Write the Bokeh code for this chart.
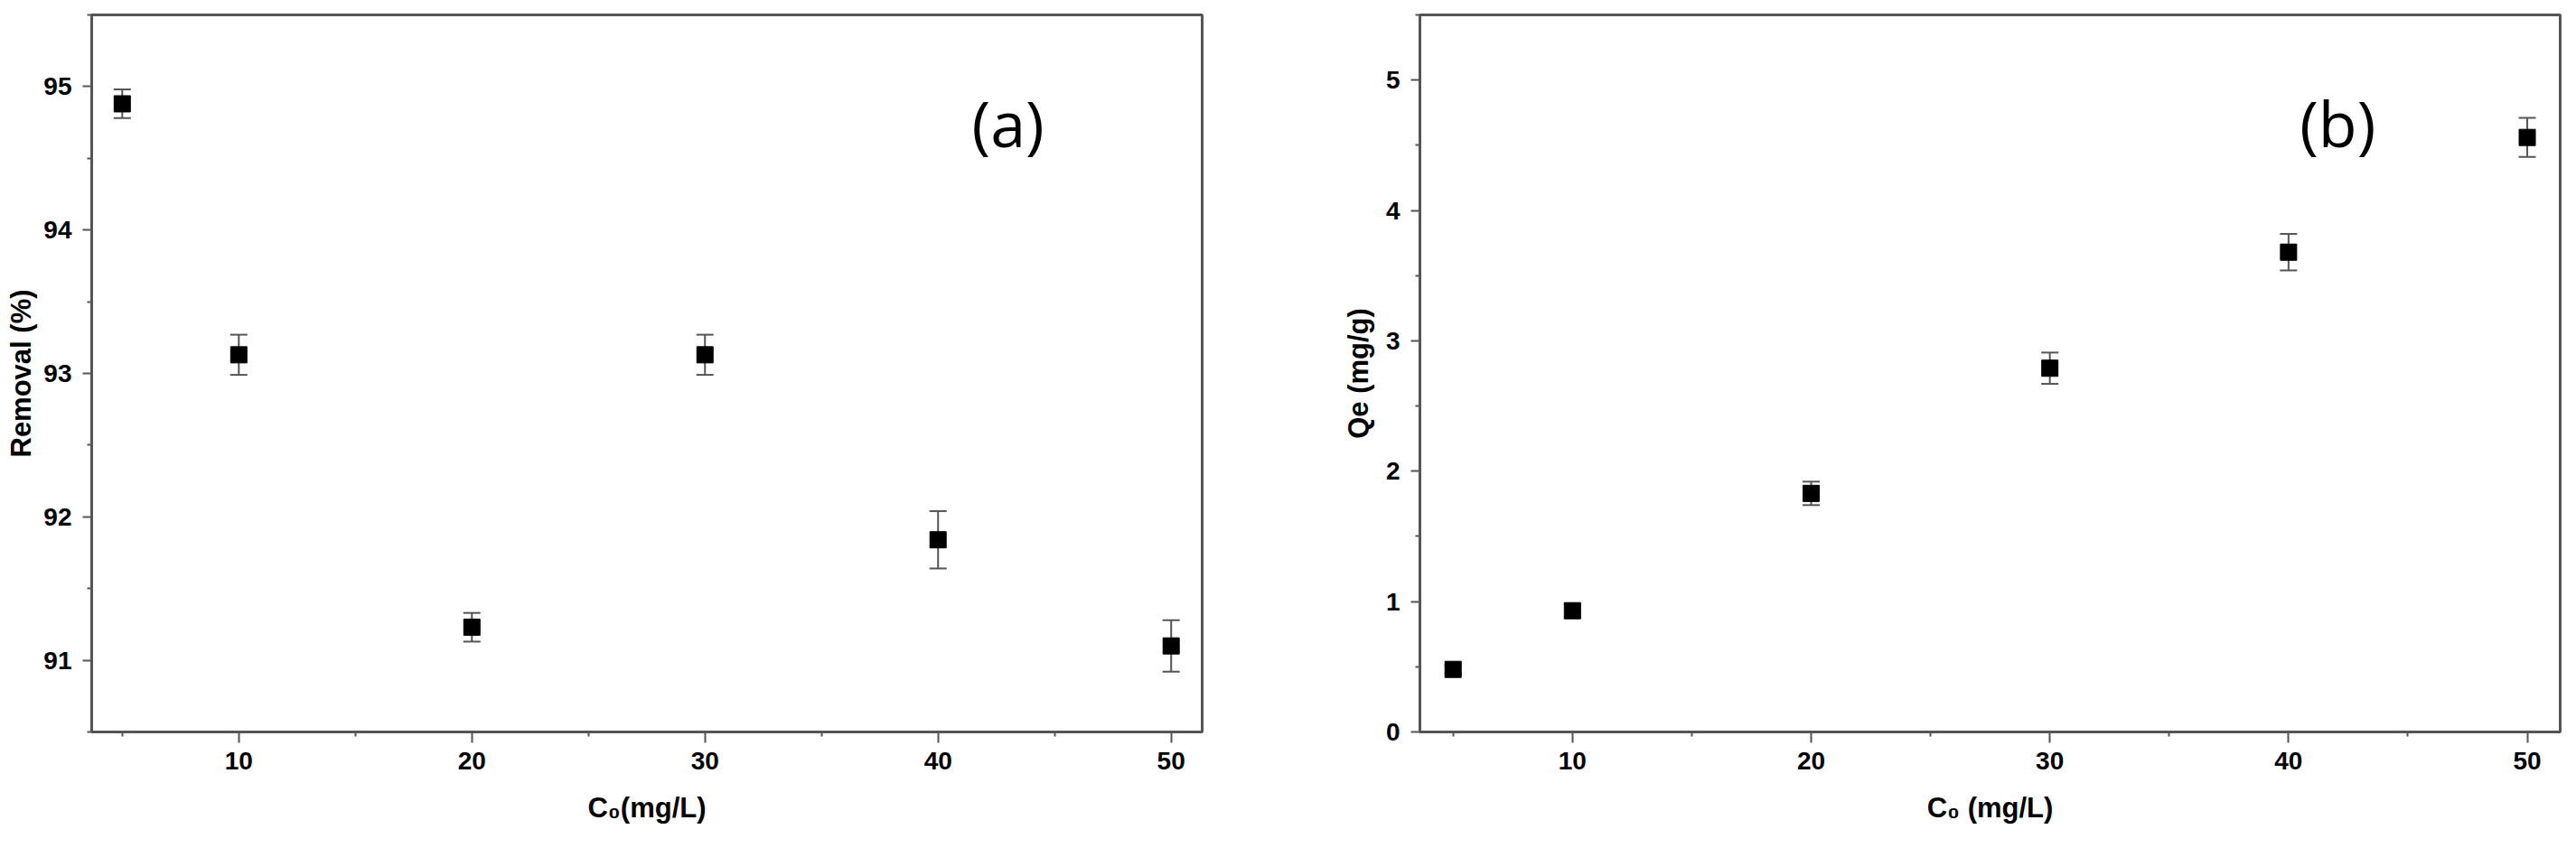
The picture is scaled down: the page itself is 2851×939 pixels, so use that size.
from bokeh.plotting import figure
from bokeh.layouts import row
from bokeh.models import ColumnDataSource, Whisker, TeeHead, FixedTicker, Label, Range1d
from bokeh.embed import file_html
from bokeh.resources import INLINE

# ---- data ----
conc = [5, 10, 20, 30, 40, 50]
removal = [94.88, 93.13, 91.23, 93.13, 91.84, 91.10]
removal_err = [0.10, 0.14, 0.10, 0.14, 0.20, 0.18]
qe = [0.48, 0.93, 1.83, 2.79, 3.68, 4.56]
qe_err = [0.03, 0.05, 0.09, 0.12, 0.14, 0.15]

x_major = [10, 20, 30, 40, 50]
x_minor = [5, 15, 25, 35, 45]
ya_major = [91, 92, 93, 94, 95]
ya_minor = [90.5, 91.5, 92.5, 93.5, 94.5, 95.5]
yb_major = [0, 1, 2, 3, 4, 5]
yb_minor = [0.5, 1.5, 2.5, 3.5, 4.5, 5.5]

AX = "#555555"
FONT = "Liberation Sans"


def make_panel(width, left, right, xr, yr, ys, errs, ymaj, ymin, ylabel, xlabel, tag, tag_xy, ylab_standoff):
    p = figure(width=width, height=923, x_range=Range1d(*xr), y_range=Range1d(*yr),
               output_backend="svg", toolbar_location=None,
               min_border_left=left, min_border_right=right,
               min_border_top=16, min_border_bottom=113)
    p.grid.visible = False
    p.background_fill_color = "white"
    p.border_fill_color = "white"
    p.outline_line_color = AX
    p.outline_line_width = 3

    p.xaxis.ticker = FixedTicker(ticks=x_major, minor_ticks=x_minor)
    p.yaxis.ticker = FixedTicker(ticks=ymaj, minor_ticks=ymin)

    for ax in (p.xaxis[0], p.yaxis[0]):
        ax.axis_line_color = AX
        ax.axis_line_width = 3
        ax.major_tick_line_color = AX
        ax.major_tick_line_width = 2
        ax.minor_tick_line_color = AX
        ax.minor_tick_line_width = 2
        ax.major_tick_in = 0
        ax.minor_tick_in = 0
        ax.minor_tick_out = 5
        ax.major_label_text_font = FONT
        ax.major_label_text_font_style = "bold"
        ax.major_label_text_font_size = "28px"
        ax.major_label_text_color = "black"
        ax.axis_label_text_font = FONT
        ax.axis_label_text_font_style = "bold"
        ax.axis_label_text_font_size = "31px"
        ax.axis_label_text_color = "black"

    p.xaxis.major_tick_out = 12
    p.yaxis.major_tick_out = 10
    p.xaxis.major_label_standoff = 10
    p.yaxis.major_label_standoff = 12
    p.xaxis.axis_label_standoff = 22
    p.yaxis.axis_label_standoff = ylab_standoff
    p.xaxis.axis_label = xlabel
    p.yaxis.axis_label = ylabel

    src = ColumnDataSource(dict(x=conc, y=ys,
                                lo=[a - b for a, b in zip(ys, errs)],
                                hi=[a + b for a, b in zip(ys, errs)]))
    w = Whisker(source=src, base="x", upper="hi", lower="lo",
                line_color="#555555", line_width=2,
                upper_head=TeeHead(size=19, line_color="#555555", line_width=2),
                lower_head=TeeHead(size=19, line_color="#555555", line_width=2))
    p.add_layout(w)
    p.scatter("x", "y", source=src, marker="square", size=18,
              fill_color="black", line_color="black")

    p.add_layout(Label(x=tag_xy[0], y=tag_xy[1], text=tag,
                       text_font="Open Sans", text_font_size="70px",
                       text_align="center", text_baseline="middle",
                       text_color="black"))
    return p


pa = make_panel(1392, 101, 62, (3.69, 51.33), (90.5, 95.5), removal, removal_err,
                ya_major, ya_minor, "Removal (%)", "C\u2080(mg/L)", "(a)", (43.0, 94.75), 4)
pb = make_panel(1451, 179, 10, (3.61, 51.38), (0, 5.5), qe, qe_err,
                yb_major, yb_minor, "Qe (mg/g)", "C\u2080 (mg/L)", "(b)", (42.06, 4.67), 10)

layout = row(pa, pb)
open("out.html", "w").write(file_html(layout, INLINE))
